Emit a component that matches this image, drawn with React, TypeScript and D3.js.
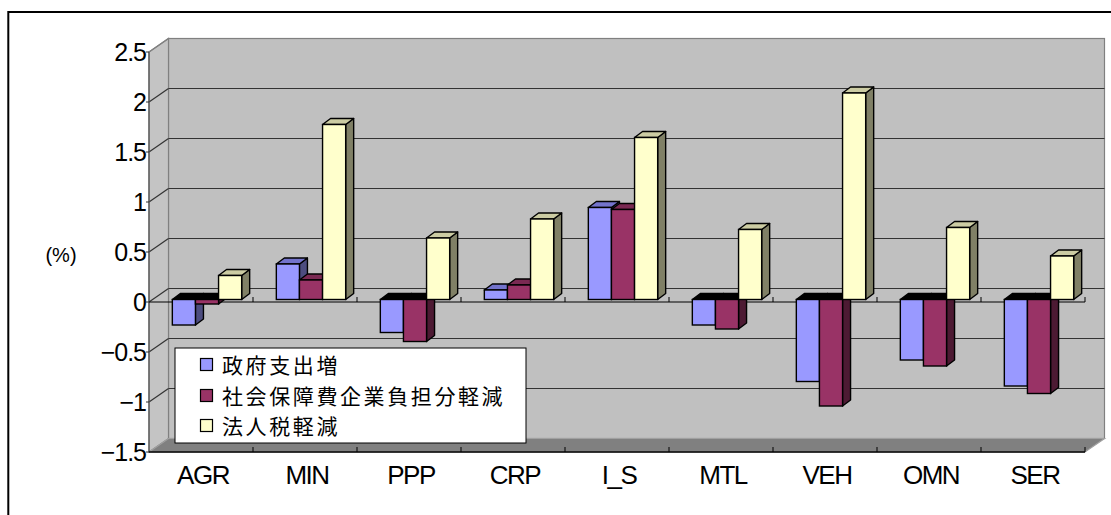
import React from "react";
import * as d3 from "d3";

// Sector codes along the category axis
const categories = ["AGR", "MIN", "PPP", "CRP", "I_S", "MTL", "VEH", "OMN", "SER"];

// Series names shown in the legend
const seriesNames = ["政府支出増", "社会保障費企業負担分軽減", "法人税軽減"];

// Effect on each sector (%) for each policy
const govSpending = [-0.255, 0.355, -0.33, 0.095, 0.92, -0.255, -0.82, -0.605, -0.865];
const socialSecurityCut = [-0.045, 0.195, -0.42, 0.145, 0.9, -0.295, -1.065, -0.665, -0.94];
const corporateTaxCut = [0.24, 1.75, 0.615, 0.805, 1.62, 0.7, 2.065, 0.72, 0.435];

const yTicks = [-1.5, -1, -0.5, 0, 0.5, 1, 1.5, 2, 2.5];

const W = 1111;
const H = 515;

// Face colours per series: front, top, side
const palette = [
  { front: "#9999FF", top: "#7373CC", side: "#4D4D80" },
  { front: "#993366", top: "#7A2952", side: "#4D1A33" },
  { front: "#FFFFCC", top: "#CCCCA3", side: "#808066" },
];

const fmt = (v: number) => {
  const s = String(Math.abs(v));
  return v < 0 ? "\u2212" + s : s;
};

export default function App() {
  const series = [govSpending, socialSecurityCut, corporateTaxCut];

  // Front plane of the 3D box
  const left = 149;
  const right = 1085;
  const y = d3.scaleLinear().domain([-1.5, 2.5]).range([452, 52]);
  const x = d3.scaleBand<string>().domain(categories).range([left, right]).paddingInner(0).paddingOuter(0);
  const inner = d3
    .scaleBand<string>()
    .domain(["0", "1", "2"])
    .range([0, x.bandwidth()])
    .paddingInner(0)
    .paddingOuter(0.75);

  // Oblique depth offsets
  const depthX = 19.5;
  const depthY = -13.5;
  const barOffX = 6;
  const barOffY = -2.5;
  const barDX = 8;
  const barDY = -6;

  const yMin = -1.5;
  const yMax = 2.5;
  const fy = (v: number) => y(v);
  const by = (v: number) => y(v) + depthY;

  const pts = (p: [number, number][]) => p.map((q) => q.join(",")).join(" ");

  // Bars in drawing order: left to right
  const bars: React.ReactNode[] = [];
  categories.forEach((c, ci) => {
    series.forEach((vals, si) => {
      const v = vals[ci];
      const col = palette[si];
      const x0 = (x(c) as number) + (inner(String(si)) as number) + barOffX;
      const x1 = x0 + inner.bandwidth();
      const yz = y(0) + barOffY;
      const yv = y(v) + barOffY;
      const key = `${ci}-${si}`;
      const sw = 1.4;
      if (v >= 0) {
        bars.push(
          <g key={key}>
            <polygon
              points={pts([[x1, yz], [x1 + barDX, yz + barDY], [x1 + barDX, yv + barDY], [x1, yv]])}
              fill={col.side}
              stroke="#000"
              strokeWidth={sw}
              strokeLinejoin="round"
            />
            <polygon
              points={pts([[x0, yv], [x0 + barDX, yv + barDY], [x1 + barDX, yv + barDY], [x1, yv]])}
              fill={col.top}
              stroke="#000"
              strokeWidth={sw}
              strokeLinejoin="round"
            />
            <rect x={x0} y={yv} width={x1 - x0} height={yz - yv} fill={col.front} stroke="#000" strokeWidth={sw} />
          </g>
        );
      } else {
        bars.push(
          <g key={key}>
            <polygon
              points={pts([[x1, yz], [x1 + barDX, yz + barDY], [x1 + barDX, yv + barDY], [x1, yv]])}
              fill={col.side}
              stroke="#000"
              strokeWidth={sw}
              strokeLinejoin="round"
            />
            <polygon
              points={pts([[x0, yz], [x0 + barDX, yz + barDY], [x1 + barDX, yz + barDY], [x1, yz]])}
              fill="#000"
              stroke="#000"
              strokeWidth={sw}
              strokeLinejoin="round"
            />
            <rect x={x0} y={yz} width={x1 - x0} height={yv - yz} fill={col.front} stroke="#000" strokeWidth={sw} />
          </g>
        );
      }
    });
  });

  const catBounds = d3.range(categories.length + 1).map((i) => left + i * x.step());

  const legendX = 175;
  const legendY = 348;
  const legendRows = [365, 396, 426];

  return (
    <svg width={W} height={H} style={{ display: "block", position: "absolute", left: 0, top: 0 }}>
      <rect x={0} y={0} width={W} height={H} fill="#fff" />
      {/* chart frame */}
      <rect x={8.3} y={12} width={1120} height={520} fill="none" stroke="#000" strokeWidth={2} />

      {/* back wall */}
      <rect
        x={left + depthX}
        y={by(yMax)}
        width={right - left}
        height={by(yMin) - by(yMax)}
        fill="#C0C0C0"
        stroke="#808080"
        strokeWidth={1.2}
      />
      {/* side wall */}
      <polygon
        points={pts([
          [left, fy(yMax)],
          [left + depthX, by(yMax)],
          [left + depthX, by(yMin)],
          [left, fy(yMin)],
        ])}
        fill="#C4C4C4"
        stroke="#808080"
        strokeWidth={1.2}
      />
      {/* floor */}
      <polygon
        points={pts([
          [left, fy(yMin)],
          [left + depthX, by(yMin)],
          [right + depthX, by(yMin)],
          [right, fy(yMin)],
        ])}
        fill="#808080"
        stroke="#A0A0A0"
        strokeWidth={1.2}
      />

      {/* gridlines */}
      {yTicks.map((t) =>
        t === yMin ? null : (
          <g key={`g${t}`}>
            {t !== yMax && (
              <line
                x1={left + depthX}
                x2={right + depthX}
                y1={by(t)}
                y2={by(t)}
                stroke="#333"
                strokeWidth={1.2}
              />
            )}
            <line
              x1={left}
              y1={fy(t)}
              x2={left + depthX}
              y2={by(t)}
              stroke={t === yMax ? "#808080" : "#333"}
              strokeWidth={1.2}
            />
          </g>
        )
      )}

      {/* value axis */}
      <line x1={left} x2={left} y1={fy(yMax)} y2={fy(yMin)} stroke="#555" strokeWidth={1.2} />
      {yTicks.map((t) => (
        <g key={`t${t}`}>
          <line x1={left - 3} x2={left} y1={fy(t)} y2={fy(t)} stroke="#333" strokeWidth={1} />
          <text
            x={146}
            y={fy(t)}
            dy="0.36em"
            textAnchor="end"
            fontFamily="'Liberation Sans', Arial, sans-serif"
            fontSize={25}
            letterSpacing={-1}
            fill="#000"
          >
            {fmt(t)}
          </text>
        </g>
      ))}

      {/* category axis at zero */}
      <line x1={left} x2={right} y1={fy(0)} y2={fy(0)} stroke="#000" strokeWidth={1.2} />
      {catBounds.map((bx, i) =>
        i === 0 ? null : <line key={`z${i}`} x1={bx} x2={bx} y1={fy(0)} y2={fy(0) - 5} stroke="#000" strokeWidth={1} />
      )}

      {bars}

      {/* floor front edge with ticks */}
      <line x1={left} x2={right} y1={fy(yMin)} y2={fy(yMin)} stroke="#000" strokeWidth={1.5} />
      {catBounds.map((bx, i) =>
        i === 0 ? null : (
          <line key={`f${i}`} x1={bx} x2={bx} y1={fy(yMin)} y2={fy(yMin) - 5} stroke="#000" strokeWidth={1} />
        )
      )}

      {/* category labels */}
      {categories.map((c) => (
        <text
          key={c}
          x={(x(c) as number) + x.bandwidth() / 2 + 2}
          y={484}
          textAnchor="middle"
          fontFamily="'Liberation Sans', Arial, sans-serif"
          fontSize={26}
          letterSpacing={-1.5}
          fill="#000"
        >
          {c}
        </text>
      ))}

      {/* unit label */}
      <text
        x={61}
        y={255}
        dy="0.36em"
        textAnchor="middle"
        fontFamily="'Liberation Sans', Arial, sans-serif"
        fontSize={20}
        fill="#000"
      >
        (%)
      </text>

      {/* legend */}
      <rect x={legendX} y={legendY} width={351} height={95} fill="#fff" stroke="#000" strokeWidth={1} />
      {seriesNames.map((n, i) => (
        <g key={n}>
          <rect
            x={200.5}
            y={legendRows[i] - 6.5}
            width={12}
            height={12}
            fill={palette[i].front}
            stroke="#000"
            strokeWidth={1.2}
          />
          <text
            x={222}
            y={legendRows[i]}
            dy="0.36em"
            fontFamily="'Noto Sans CJK JP', sans-serif"
            fontSize={21}
            letterSpacing={2.6}
            fill="#000"
          >
            {n}
          </text>
        </g>
      ))}
    </svg>
  );
}
